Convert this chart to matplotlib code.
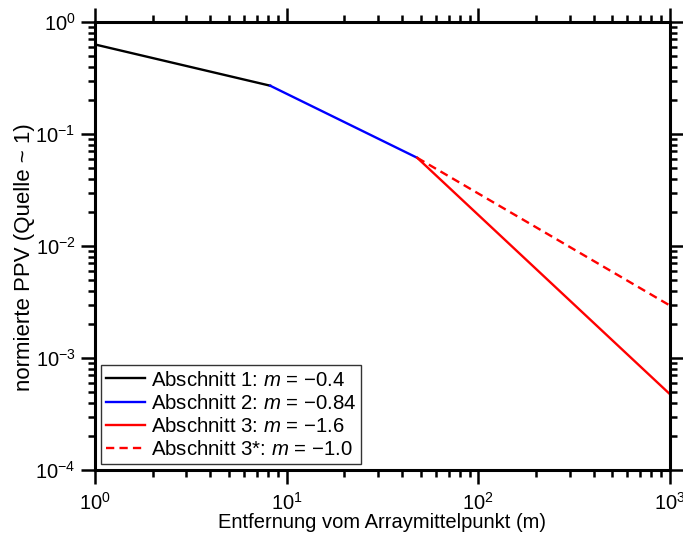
import matplotlib
matplotlib.use("Agg")
import matplotlib.pyplot as plt
from matplotlib.ticker import LogLocator, NullFormatter

plt.rcParams['font.family'] = ['Liberation Sans', 'DejaVu Sans']
plt.rcParams['mathtext.fontset'] = 'custom'
plt.rcParams['mathtext.rm'] = 'Liberation Sans'
plt.rcParams['mathtext.it'] = 'Liberation Sans:italic'

# segment end points (distance in m, normalised PPV)
x_seg1 = [1.0, 8.2]
y_seg1 = [0.63, 0.27]
x_seg2 = [8.2, 48.0]
y_seg2 = [0.27, 0.0613]
x_seg3 = [48.0, 1000.0]
y_seg3 = [0.0613, 0.000475]
x_seg3b = [48.0, 1000.0]
y_seg3b = [0.0613, 0.00294]

labels = [
    r'Abschnitt 1: $m$ = $-$0.4',
    r'Abschnitt 2: $m$ = $-$0.84',
    r'Abschnitt 3: $m$ = $-$1.6',
    r'Abschnitt 3*: $m$ = $-$1.0',
]

fig = plt.figure(figsize=(6.83, 5.36), dpi=100)
ax = fig.add_axes([0.139, 0.123, 0.842, 0.836])

ax.plot(x_seg1, y_seg1, color='black', lw=1.7, label=labels[0])
ax.plot(x_seg2, y_seg2, color='#0000ff', lw=1.7, label=labels[1])
ax.plot(x_seg3, y_seg3, color='#ff0000', lw=1.7, label=labels[2])
ax.plot(x_seg3b, y_seg3b, color='#ff0000', lw=1.7, ls=(0, (3.5, 2.2)), label=labels[3])

ax.set_xscale('log')
ax.set_yscale('log')
ax.set_xlim(1, 1000)
ax.set_ylim(1e-4, 1)

for a in (ax.xaxis, ax.yaxis):
    a.set_major_locator(LogLocator(base=10, numticks=10))
    a.set_minor_locator(LogLocator(base=10, subs=range(2, 10), numticks=20))
    a.set_minor_formatter(NullFormatter())

ax.tick_params(which='both', direction='out', top=True, right=True, width=1.8,
               labelsize=14.5)
ax.tick_params(axis='x', pad=6)
ax.tick_params(axis='y', pad=4)
ax.tick_params(which='major', length=10)
ax.tick_params(which='minor', length=5)
for s in ax.spines.values():
    s.set_linewidth(2.2)

ax.set_xlabel('Entfernung vom Arraymittelpunkt (m)', fontsize=14.5, labelpad=-1)
ax.set_ylabel('normierte PPV (Quelle ~ 1)', fontsize=16, labelpad=2)
ax.yaxis.set_label_coords(-0.105, 0.475)

leg = ax.legend(loc='lower left', fontsize=14.7, frameon=True, fancybox=False,
                borderaxespad=0.3, handlelength=1.9, handletextpad=0.3,
                labelspacing=0.2, borderpad=0.25)
leg.get_frame().set_edgecolor('black')
leg.get_frame().set_linewidth(1.0)

fig.savefig('out.png', dpi=100)
